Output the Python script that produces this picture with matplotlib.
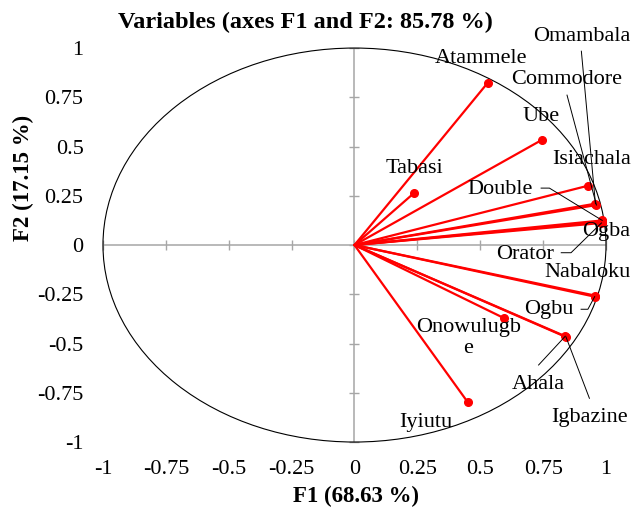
import numpy as np
import matplotlib.pyplot as plt
from matplotlib.patches import Circle

plt.rcParams['font.family'] = ['Liberation Serif', 'DejaVu Serif']

# Correlations between the variables and the factors F1, F2.
variables = ['Omambala', 'Atammele', 'Commodore', 'Ube', 'Isiachala', 'Tabasi',
             'Double', 'Ogba', 'Orator', 'Nabaloku', 'Ogbu', 'Onowulugbe',
             'Ahala', 'Igbazine', 'Iyiutu']
f1 = [0.958, 0.530, 0.962, 0.744, 0.928, 0.235, 0.985, 0.987, 0.982,
      0.958, 0.955, 0.596, 0.838, 0.841, 0.451]
f2 = [0.210, 0.824, 0.203, 0.533, 0.301, 0.262, 0.125, 0.118, 0.112,
      -0.257, -0.262, -0.372, -0.463, -0.467, -0.799]

ticks = [-1, -0.75, -0.5, -0.25, 0, 0.25, 0.5, 0.75, 1]
tick_labels = ['-1', '-0.75', '-0.5', '-0.25', '0', '0.25', '0.5', '0.75', '1']

# Where each name is written (centre of the text).
label_pos = {
    'Omambala': (0.903, 1.061), 'Atammele': (0.505, 0.949),
    'Commodore': (0.845, 0.838), 'Ube': (0.742, 0.651),
    'Isiachala': (0.942, 0.435), 'Tabasi': (0.237, 0.389),
    'Double': (0.579, 0.283), 'Ogba': (0.999, 0.071),
    'Orator': (0.679, -0.046), 'Nabaloku': (0.926, -0.141),
    'Ogbu': (0.771, -0.326), 'Onowulugbe': (0.452, -0.472),
    'Ahala': (0.731, -0.706), 'Igbazine': (0.934, -0.875),
    'Iyiutu': (0.285, -0.902),
}
label_text = {'Onowulugbe': 'Onowulugb\ne'}

# Leader lines start at these points and end on the variable's dot.
leaders = {
    'Omambala': [(0.902, 0.984)],
    'Commodore': [(0.845, 0.761)],
    'Double': [(0.742, 0.289), (0.775, 0.289)],
    'Orator': [(0.822, -0.039), (0.861, -0.039)],
    'Ogbu': [(0.901, -0.326), (0.928, -0.326)],
    'Ahala': [(0.732, -0.609)],
    'Igbazine': [(0.934, -0.778)],
}

fig = plt.figure(figsize=(6.44, 5.15), dpi=100)
ax = fig.add_axes([0.1599, 0.1417, 0.7811, 0.7650])
ax.set_xlim(-1, 1)
ax.set_ylim(-1, 1)
for s in ax.spines.values():
    s.set_visible(False)

# Centre axes with small tick marks
grey = '#a6a6a6'
ax.axhline(0, color=grey, lw=1.1, zorder=1)
ax.axvline(0, color=grey, lw=1.1, zorder=1)
ax.plot(ticks, np.zeros(len(ticks)), ls='none', marker='|', ms=7,
        mew=1.0, color=grey, zorder=1, clip_on=False)
ax.plot(np.zeros(len(ticks)), ticks, ls='none', marker='_', ms=7,
        mew=1.0, color=grey, zorder=1, clip_on=False)

ax.set_xticks(ticks)
ax.set_xticklabels(tick_labels)
ax.set_yticks(ticks)
ax.set_yticklabels(tick_labels)
ax.tick_params(axis='x', length=0, pad=13, labelsize=16)
ax.tick_params(axis='y', length=0, pad=14, labelsize=16)

# Correlation circle
ax.add_patch(Circle((0, 0), 1, fill=False, ec='black', lw=0.8,
                    clip_on=False, zorder=2))

# Vectors
for x, y in zip(f1, f2):
    ax.plot([0, x], [0, y], color='#ff0000', lw=1.6, zorder=3,
            solid_capstyle='round')
ax.plot(f1, f2, ls='none', marker='o', ms=5.5, color='#ff0000', zorder=4)

# Names and leader lines
for name, x, y in zip(variables, f1, f2):
    lx, ly = label_pos[name]
    ax.text(lx, ly, label_text.get(name, name), ha='center', va='center',
            fontsize=16, linespacing=1.12, zorder=5, clip_on=False)
    if name in leaders:
        pts = leaders[name] + [(x, y)]
        ax.plot([p[0] for p in pts], [p[1] for p in pts], color='black',
                lw=0.7, zorder=5, clip_on=False)

fig.text(305 / 644, 1 - 22 / 515, 'Variables (axes F1 and F2: 85.78 %)',
         ha='center', va='center', fontsize=17.5, fontweight='bold')
fig.text(356 / 644, 1 - 496 / 515, 'F1 (68.63 %)', ha='center', va='center',
         fontsize=16.5, fontweight='bold')
fig.text(23 / 644, 1 - 178 / 515, 'F2 (17.15 %)', ha='center', va='center',
         fontsize=16.5, fontweight='bold', rotation=90)

fig.savefig('out.png', dpi=100)
